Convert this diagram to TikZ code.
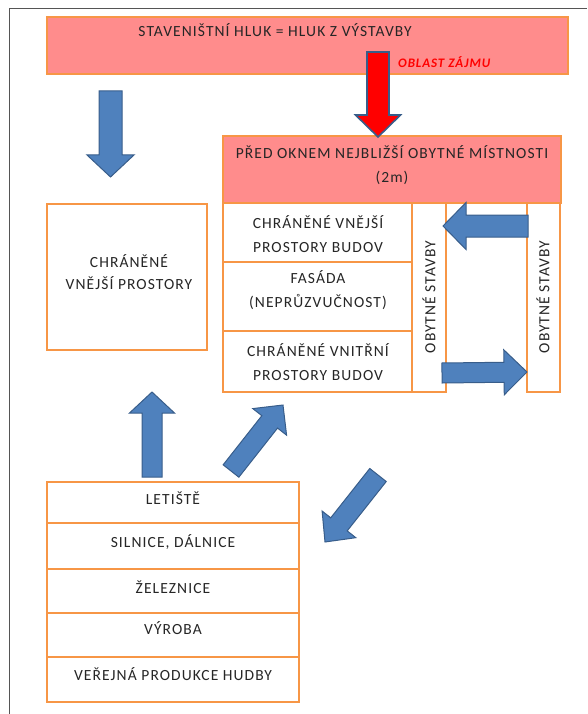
\documentclass[tikz,border=0pt]{standalone}
\usepackage{fontspec}
\setmainfont{Carlito}[LetterSpace=7]
\usetikzlibrary{calc}
\definecolor{pinkfill}{HTML}{FF8C8C}
\definecolor{boxline}{HTML}{F79646}
\definecolor{arrowfill}{HTML}{4F81BD}
\definecolor{arrowline}{HTML}{385D8A}
\definecolor{framecol}{HTML}{555555}
\tikzset{
  box/.style={draw=boxline, line width=1.8pt, fill=white},
  pinkbox/.style={box, fill=pinkfill},
  lbl/.style={font=\fontsize{15.5}{24}\selectfont, text=black!85, align=center, inner sep=0pt},
  zajem/.style={font=\fontsize{13}{15}\selectfont\bfseries\itshape, text=red, inner sep=0pt},
  bluearr/.style={fill=arrowfill, draw=arrowline, line width=1pt},
  redarr/.style={fill=red, draw=arrowline, line width=1.6pt},
}
% block arrow: tail, tip, half shaft, half head, head length
\newcommand{\blockarr}[6][bluearr]{%
  \coordinate (hb) at ($(#3)!#6!(#2)$);
  \draw[#1] ($(#2)!#4!90:(#3)$) -- ($(hb)!#4!90:(#3)$) -- ($(hb)!#5!90:(#3)$)
    -- (#3) -- ($(hb)!#5!-90:(#3)$) -- ($(hb)!#4!-90:(#3)$)
    -- ($(#2)!#4!-90:(#3)$) -- cycle;
}
\begin{document}
\begin{tikzpicture}[x=1pt,y=-1pt]
\useasboundingbox (0,0) rectangle (587,714);
\draw[framecol, line width=1pt] (9,714) -- (9,9) -- (587,9);

% banner
\draw[pinkbox] (47,17) rectangle (568,74);
\node[lbl] (hluk) at (275,30) {STAVENIŠTNÍ HLUK = HLUK Z VÝSTAVBY};
\node[zajem, anchor=west] (zajem) at (398,62) {OBLAST ZÁJMU};

% left box
\draw[box] (47,204) rectangle (207,350);
\node[lbl, font=\fontsize{15.5}{22}\selectfont] (venku) at (129,272) {CHRÁNĚNÉ\\VNĚJŠÍ PROSTORY};

% right group
\draw[pinkbox] (223,136) rectangle (561,203);
\node[lbl] (okno) at (392,165) {PŘED OKNEM NEJBLIŽŠÍ OBYTNÉ MÍSTNOSTI\\(2m)};
\foreach \ya/\yb/\txt/\ty [count=\i] in {203/262/{CHRÁNĚNÉ VNĚJŠÍ\\PROSTORY BUDOV}/234,
    262/331/{FASÁDA\\(NEPRŮZVUČNOST)}/290, 331/392/{CHRÁNĚNÉ VNITŘNÍ\\PROSTORY BUDOV}/362}{
  \draw[box] (223,\ya) rectangle (412,\yb);
  \node[lbl] (budova\i) at (318,\ty) {\txt};
}
\draw[box] (412,203) rectangle (446,392);
\node[lbl, rotate=90] (obytne1) at (429,297) {OBYTNÉ STAVBY};
\draw[box] (527,203) rectangle (560,392);
\node[lbl, rotate=90] (obytne2) at (543,297) {OBYTNÉ STAVBY};

% sources
\foreach \ya/\yb/\txt/\ty [count=\i] in {482/523/LETIŠTĚ/498, 523/569/{SILNICE, DÁLNICE}/542,
    569/613/ŽELEZNICE/587, 613/657/VÝROBA/628, 657/702/{VEŘEJNÁ PRODUKCE HUDBY}/674}{
  \draw[box] (47,\ya) rectangle (299,\yb);
  \node[lbl] (zdroj\i) at (173,\ty) {\txt};
}

% arrows
\coordinate (redT) at (378,52);
\coordinate (redP) at (378,137);
\coordinate (downT) at (110.5,91);
\coordinate (downP) at (110.5,177);
\coordinate (leftT) at (528,226);
\coordinate (leftP) at (443,226);
\coordinate (rightT) at (442,373);
\coordinate (rightP) at (527,372);
\coordinate (upT) at (152,477);
\coordinate (upP) at (152,392);
\coordinate (diagT) at (231,471);
\coordinate (diagP) at (283,405);
\coordinate (backT) at (378,475);
\coordinate (backP) at (325,542);
\blockarr[redarr]{redT}{redP}{11pt}{22.5pt}{22pt}
\blockarr{downT}{downP}{11.5pt}{23.5pt}{22pt}
\blockarr{leftT}{leftP}{11pt}{23.5pt}{23pt}
\blockarr{rightT}{rightP}{10pt}{22.5pt}{23pt}
\blockarr{upT}{upP}{10pt}{22.5pt}{21pt}
\blockarr{diagT}{diagP}{10pt}{21.5pt}{21.5pt}
\blockarr{backT}{backP}{10.5pt}{21.5pt}{22.5pt}
\end{tikzpicture}
\end{document}
